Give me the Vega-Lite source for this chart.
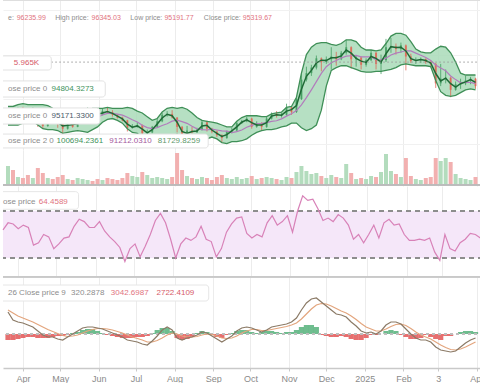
{
"$schema":"https://vega.github.io/schema/vega-lite/v6.json",
"padding":0,
"spacing":0,
"background":"white",
"config":{"view":{"stroke":null},"font":"Liberation Sans"},
"data":{"values":[
{"d":"2024-03-20","o":66.5,"h":69,"l":65.5,"c":67.5,"u":72,"lo":62,"m":67.5,"s":67.5,"v":20,"r":54,"dif":2200,"dea":2400,"hi":-600},
{"d":"2024-03-24","o":67.5,"h":68.8,"l":65.8,"c":67,"u":72,"lo":62,"m":67.3,"s":67.2,"v":16,"r":60,"dif":1400,"dea":2100,"hi":-600},
{"d":"2024-03-28","o":67,"h":71.5,"l":66.5,"c":70.5,"u":73,"lo":62,"m":68.8,"s":67.8,"v":9,"r":59,"dif":1200,"dea":1800,"hi":-500},
{"d":"2024-04-01","o":70.5,"h":71.8,"l":68.5,"c":69.5,"u":73.5,"lo":63,"m":70,"s":68.3,"v":8,"r":55,"dif":1100,"dea":1600,"hi":-400},
{"d":"2024-04-05","o":69.5,"h":70.5,"l":66.5,"c":68,"u":73,"lo":63.5,"m":68.8,"s":68.5,"v":11,"r":58,"dif":900,"dea":1400,"hi":-300},
{"d":"2024-04-09","o":68,"h":71.5,"l":67.5,"c":69.5,"u":73,"lo":64,"m":68.8,"s":68.7,"v":8,"r":56,"dif":700,"dea":1200,"hi":-300},
{"d":"2024-04-13","o":69.5,"h":70,"l":61,"c":64,"u":73,"lo":62,"m":66.8,"s":68.1,"v":18,"r":41,"dif":300,"dea":950,"hi":-400},
{"d":"2024-04-17","o":64,"h":65,"l":60,"c":61.5,"u":73,"lo":60,"m":62.8,"s":67.2,"v":13,"r":43,"dif":-100,"dea":700,"hi":-400},
{"d":"2024-04-21","o":61.5,"h":66,"l":61,"c":65,"u":72.5,"lo":59.5,"m":63.3,"s":66.3,"v":8,"r":50,"dif":-300,"dea":450,"hi":-400},
{"d":"2024-04-25","o":65,"h":66.5,"l":63,"c":64,"u":71,"lo":59.5,"m":64.5,"s":65.3,"v":7,"r":48,"dif":-300,"dea":250,"hi":-300},
{"d":"2024-04-29","o":64,"h":64.5,"l":60.5,"c":63,"u":70,"lo":59,"m":63.5,"s":64.5,"v":9,"r":38,"dif":-500,"dea":50,"hi":-200},
{"d":"2024-05-03","o":63,"h":63.5,"l":57,"c":60,"u":69,"lo":57.5,"m":61.5,"s":62.9,"v":11,"r":42,"dif":-600,"dea":-150,"hi":-200},
{"d":"2024-05-07","o":60,"h":64.5,"l":59.5,"c":63.5,"u":67.5,"lo":58,"m":61.8,"s":62.8,"v":7,"r":47,"dif":-300,"dea":-250,"hi":-100},
{"d":"2024-05-11","o":63.5,"h":63.8,"l":60.5,"c":61,"u":66.5,"lo":58.5,"m":62.3,"s":62.8,"v":6,"r":48,"dif":0,"dea":-200,"hi":100},
{"d":"2024-05-15","o":61,"h":66,"l":60.8,"c":64.5,"u":66.5,"lo":59,"m":62.8,"s":62.7,"v":8,"r":57,"dif":300,"dea":-100,"hi":200},
{"d":"2024-05-19","o":64.5,"h":67.5,"l":64,"c":67,"u":68,"lo":58.5,"m":65.8,"s":63.2,"v":7,"r":63,"dif":600,"dea":100,"hi":400},
{"d":"2024-05-23","o":67,"h":71.5,"l":66.5,"c":68.5,"u":70,"lo":58,"m":67.8,"s":64.1,"v":6,"r":61,"dif":700,"dea":300,"hi":500},
{"d":"2024-05-27","o":68.5,"h":70,"l":67.5,"c":68,"u":71,"lo":59.5,"m":68.3,"s":65.4,"v":5,"r":56,"dif":700,"dea":450,"hi":500},
{"d":"2024-05-31","o":68,"h":69.5,"l":66.8,"c":67.5,"u":71,"lo":61,"m":67.8,"s":66.1,"v":7,"r":56,"dif":600,"dea":550,"hi":300},
{"d":"2024-06-04","o":67.5,"h":71,"l":67.2,"c":69.5,"u":71,"lo":63.5,"m":68.5,"s":67.5,"v":6,"r":61,"dif":500,"dea":550,"hi":100},
{"d":"2024-06-08","o":69.5,"h":71.5,"l":68.5,"c":69,"u":71.5,"lo":65,"m":69.3,"s":68.3,"v":8,"r":53,"dif":300,"dea":500,"hi":-100},
{"d":"2024-06-12","o":69,"h":70,"l":66.5,"c":67.5,"u":71,"lo":65.5,"m":68.3,"s":68.3,"v":7,"r":48,"dif":100,"dea":400,"hi":-200},
{"d":"2024-06-16","o":67.5,"h":67.8,"l":65.5,"c":66,"u":71,"lo":64.5,"m":66.8,"s":67.9,"v":6,"r":44,"dif":-100,"dea":250,"hi":-300},
{"d":"2024-06-20","o":66,"h":66.5,"l":64,"c":64.5,"u":71,"lo":63,"m":65.3,"s":67.3,"v":8,"r":39,"dif":-300,"dea":100,"hi":-400},
{"d":"2024-06-24","o":64.5,"h":64.8,"l":58.5,"c":60.5,"u":71.5,"lo":60,"m":62.5,"s":66.2,"v":13,"r":27,"dif":-600,"dea":-100,"hi":-400},
{"d":"2024-06-28","o":60.5,"h":62.5,"l":60,"c":61,"u":71,"lo":58,"m":60.8,"s":64.8,"v":10,"r":38,"dif":-700,"dea":-300,"hi":-400},
{"d":"2024-07-02","o":61,"h":63.5,"l":60.5,"c":62,"u":69.5,"lo":57.5,"m":61.5,"s":63.6,"v":9,"r":42,"dif":-800,"dea":-450,"hi":-300},
{"d":"2024-07-06","o":62,"h":62.3,"l":54,"c":57.5,"u":68.5,"lo":55,"m":59.8,"s":61.9,"v":14,"r":31,"dif":-1000,"dea":-600,"hi":-300},
{"d":"2024-07-10","o":57.5,"h":59.5,"l":56.5,"c":58,"u":66.5,"lo":54.5,"m":57.8,"s":60.6,"v":11,"r":40,"dif":-1100,"dea":-800,"hi":-200},
{"d":"2024-07-14","o":58,"h":61.5,"l":57.5,"c":61,"u":64.5,"lo":55,"m":59.5,"s":60,"v":8,"r":50,"dif":-700,"dea":-800,"hi":100},
{"d":"2024-07-18","o":61,"h":65.5,"l":60.5,"c":64,"u":65.5,"lo":55.5,"m":62.5,"s":60.6,"v":9,"r":62,"dif":-200,"dea":-650,"hi":400},
{"d":"2024-07-22","o":64,"h":68.5,"l":63.5,"c":67.5,"u":69,"lo":55,"m":65.8,"s":61.7,"v":8,"r":68,"dif":400,"dea":-400,"hi":600},
{"d":"2024-07-26","o":67.5,"h":69.5,"l":66.5,"c":68,"u":71,"lo":54.5,"m":67.8,"s":62.7,"v":7,"r":60,"dif":700,"dea":-100,"hi":600},
{"d":"2024-07-30","o":68,"h":70,"l":65.5,"c":66,"u":71.5,"lo":56,"m":67,"s":64.1,"v":9,"r":46,"dif":400,"dea":100,"hi":300},
{"d":"2024-08-03","o":66,"h":66.3,"l":58,"c":61,"u":71,"lo":57,"m":63.5,"s":64.6,"v":33,"r":30,"dif":-400,"dea":0,"hi":-400},
{"d":"2024-08-07","o":61,"h":61.5,"l":49.5,"c":56,"u":71.5,"lo":55,"m":58.5,"s":63.8,"v":16,"r":42,"dif":-600,"dea":-200,"hi":-600},
{"d":"2024-08-11","o":56,"h":61.5,"l":55.5,"c":59,"u":70.5,"lo":53,"m":57.5,"s":62.9,"v":10,"r":47,"dif":-400,"dea":-300,"hi":-500},
{"d":"2024-08-15","o":59,"h":61,"l":57.5,"c":58,"u":68.5,"lo":53,"m":58.5,"s":61.3,"v":8,"r":45,"dif":-300,"dea":-300,"hi":-300},
{"d":"2024-08-19","o":58,"h":60.5,"l":57.8,"c":59.5,"u":66,"lo":53.5,"m":58.8,"s":59.9,"v":7,"r":48,"dif":-100,"dea":-250,"hi":100},
{"d":"2024-08-23","o":59.5,"h":64.8,"l":59,"c":63.5,"u":64.5,"lo":54,"m":61.5,"s":59.5,"v":9,"r":57,"dif":200,"dea":-100,"hi":300},
{"d":"2024-08-27","o":63.5,"h":64.3,"l":58.5,"c":60,"u":64,"lo":54.5,"m":61.8,"s":59.3,"v":8,"r":46,"dif":100,"dea":0,"hi":200},
{"d":"2024-08-31","o":60,"h":60.5,"l":57.5,"c":58.5,"u":63.5,"lo":55.5,"m":59.3,"s":59.8,"v":6,"r":44,"dif":-200,"dea":-50,"hi":-100},
{"d":"2024-09-04","o":58.5,"h":59,"l":55.5,"c":56.5,"u":63,"lo":54.5,"m":57.5,"s":59.3,"v":9,"r":31,"dif":-500,"dea":-200,"hi":-300},
{"d":"2024-09-08","o":56.5,"h":57,"l":52.5,"c":55,"u":62,"lo":52.5,"m":55.8,"s":58.8,"v":11,"r":38,"dif":-800,"dea":-400,"hi":-400},
{"d":"2024-09-12","o":55,"h":59,"l":54.5,"c":58.5,"u":61,"lo":52,"m":56.8,"s":58.7,"v":8,"r":52,"dif":-500,"dea":-450,"hi":-100},
{"d":"2024-09-16","o":58.5,"h":60.5,"l":57.5,"c":59,"u":61,"lo":53,"m":58.8,"s":57.9,"v":7,"r":59,"dif":-200,"dea":-400,"hi":100},
{"d":"2024-09-20","o":59,"h":64,"l":58.5,"c":63,"u":64,"lo":53,"m":61,"s":58.4,"v":9,"r":64,"dif":300,"dea":-200,"hi":300},
{"d":"2024-09-24","o":63,"h":64.8,"l":62.5,"c":64,"u":66,"lo":53.5,"m":63.5,"s":59.3,"v":7,"r":65,"dif":600,"dea":100,"hi":400},
{"d":"2024-09-28","o":64,"h":66.5,"l":63.5,"c":65.5,"u":67,"lo":54.5,"m":64.8,"s":60.8,"v":8,"r":51,"dif":700,"dea":300,"hi":400},
{"d":"2024-10-02","o":65.5,"h":66,"l":60,"c":61,"u":67,"lo":56.5,"m":63.3,"s":61.8,"v":10,"r":47,"dif":600,"dea":450,"hi":200},
{"d":"2024-10-06","o":61,"h":64,"l":60.5,"c":63,"u":67,"lo":58,"m":62,"s":62.6,"v":7,"r":50,"dif":400,"dea":450,"hi":100},
{"d":"2024-10-10","o":63,"h":63.5,"l":59,"c":61,"u":66.5,"lo":59,"m":62,"s":62.9,"v":8,"r":48,"dif":200,"dea":350,"hi":200},
{"d":"2024-10-14","o":61,"h":66.5,"l":60.5,"c":65.5,"u":66.5,"lo":59.5,"m":63.3,"s":63.3,"v":9,"r":60,"dif":400,"dea":350,"hi":300},
{"d":"2024-10-18","o":65.5,"h":68.8,"l":65,"c":68,"u":68,"lo":59.5,"m":66.8,"s":64,"v":8,"r":66,"dif":700,"dea":450,"hi":300},
{"d":"2024-10-22","o":68,"h":69.5,"l":66,"c":67,"u":68.5,"lo":60,"m":67.5,"s":64.3,"v":7,"r":58,"dif":800,"dea":550,"hi":200},
{"d":"2024-10-26","o":67,"h":68.5,"l":66,"c":67.5,"u":69,"lo":61,"m":67.3,"s":65.3,"v":6,"r":61,"dif":900,"dea":650,"hi":100},
{"d":"2024-10-30","o":67.5,"h":73.5,"l":67,"c":71.5,"u":71.5,"lo":61.5,"m":69.5,"s":66.8,"v":9,"r":66,"dif":1000,"dea":750,"hi":200},
{"d":"2024-11-03","o":71.5,"h":72,"l":67.5,"c":69,"u":72,"lo":63,"m":70.3,"s":68.1,"v":8,"r":52,"dif":1200,"dea":900,"hi":200},
{"d":"2024-11-07","o":69,"h":77,"l":68.5,"c":76,"u":77,"lo":63,"m":72.5,"s":69.8,"v":14,"r":70,"dif":1600,"dea":1100,"hi":400},
{"d":"2024-11-11","o":76,"h":89.5,"l":75.5,"c":86.5,"u":90,"lo":60.5,"m":81.3,"s":72.9,"v":20,"r":83,"dif":2400,"dea":1500,"hi":700},
{"d":"2024-11-15","o":86.5,"h":93.5,"l":85.5,"c":90,"u":100,"lo":59,"m":88.3,"s":76.8,"v":15,"r":79,"dif":3100,"dea":2000,"hi":900},
{"d":"2024-11-19","o":90,"h":94.5,"l":88.5,"c":93,"u":104,"lo":60,"m":91.5,"s":81,"v":12,"r":80,"dif":3500,"dea":2500,"hi":900},
{"d":"2024-11-23","o":93,"h":99.5,"l":92,"c":98,"u":106,"lo":62,"m":95.5,"s":85.4,"v":13,"r":72,"dif":3600,"dea":2900,"hi":700},
{"d":"2024-11-27","o":98,"h":98.5,"l":91,"c":96,"u":106.5,"lo":70,"m":97,"s":89.9,"v":10,"r":62,"dif":3200,"dea":3050,"hi":-100},
{"d":"2024-12-01","o":96,"h":99,"l":95,"c":97.5,"u":106.5,"lo":83,"m":96.8,"s":93.5,"v":8,"r":64,"dif":2800,"dea":3000,"hi":-200},
{"d":"2024-12-05","o":97.5,"h":104,"l":92,"c":99,"u":105.5,"lo":91.5,"m":98.3,"s":95.6,"v":11,"r":61,"dif":2400,"dea":2800,"hi":-300},
{"d":"2024-12-09","o":99,"h":101.5,"l":94,"c":97.5,"u":105,"lo":93,"m":98.3,"s":96.8,"v":9,"r":67,"dif":2000,"dea":2550,"hi":-300},
{"d":"2024-12-13","o":97.5,"h":102,"l":97,"c":101,"u":106,"lo":94,"m":99.3,"s":98.2,"v":8,"r":64,"dif":1900,"dea":2300,"hi":-200},
{"d":"2024-12-17","o":101,"h":108,"l":100,"c":104,"u":108,"lo":94,"m":102.5,"s":99.2,"v":22,"r":58,"dif":1700,"dea":2100,"hi":-300},
{"d":"2024-12-21","o":104,"h":104.5,"l":92.5,"c":97.5,"u":108,"lo":93,"m":100.8,"s":99.4,"v":13,"r":46,"dif":1200,"dea":1800,"hi":-500},
{"d":"2024-12-25","o":97.5,"h":99.5,"l":93.5,"c":98.5,"u":107,"lo":92,"m":98,"s":99.6,"v":7,"r":50,"dif":800,"dea":1450,"hi":-600},
{"d":"2024-12-29","o":98.5,"h":99,"l":92,"c":94.5,"u":104,"lo":91,"m":96.5,"s":98.8,"v":8,"r":43,"dif":300,"dea":1050,"hi":-600},
{"d":"2025-01-02","o":94.5,"h":98,"l":93.5,"c":97,"u":102.5,"lo":90.5,"m":95.8,"s":98.8,"v":7,"r":50,"dif":100,"dea":700,"hi":-400},
{"d":"2025-01-06","o":97,"h":102.5,"l":96.5,"c":101,"u":102.5,"lo":90.5,"m":99,"s":98.8,"v":10,"r":58,"dif":200,"dea":500,"hi":-100},
{"d":"2025-01-10","o":101,"h":101.5,"l":92,"c":95,"u":102,"lo":91,"m":98,"s":97.3,"v":9,"r":47,"dif":0,"dea":300,"hi":-100},
{"d":"2025-01-14","o":95,"h":100,"l":89.5,"c":97,"u":102.5,"lo":91,"m":96,"s":97.2,"v":14,"r":60,"dif":300,"dea":300,"hi":0},
{"d":"2025-01-18","o":97,"h":108.5,"l":96,"c":104,"u":106,"lo":91.5,"m":100.5,"s":98.1,"v":32,"r":63,"dif":900,"dea":500,"hi":300},
{"d":"2025-01-22","o":104,"h":109,"l":101,"c":104.5,"u":110,"lo":92,"m":104.3,"s":99.8,"v":15,"r":58,"dif":1200,"dea":750,"hi":400},
{"d":"2025-01-26","o":104.5,"h":106,"l":100,"c":103,"u":111.5,"lo":93,"m":103.8,"s":100.8,"v":12,"r":59,"dif":1200,"dea":950,"hi":300},
{"d":"2025-01-30","o":103,"h":106.5,"l":101,"c":105,"u":111.5,"lo":94.5,"m":104,"s":101.4,"v":9,"r":50,"dif":1000,"dea":1000,"hi":-100},
{"d":"2025-02-03","o":105,"h":105.5,"l":91.5,"c":99,"u":110.5,"lo":95,"m":102,"s":102.1,"v":28,"r":45,"dif":500,"dea":850,"hi":-300},
{"d":"2025-02-07","o":99,"h":100.5,"l":95.5,"c":96.5,"u":107,"lo":94.5,"m":97.8,"s":102,"v":10,"r":45,"dif":0,"dea":550,"hi":-500},
{"d":"2025-02-11","o":96.5,"h":98.5,"l":95,"c":97,"u":103,"lo":94,"m":96.8,"s":100.8,"v":7,"r":46,"dif":-400,"dea":200,"hi":-500},
{"d":"2025-02-15","o":97,"h":98.5,"l":95.5,"c":97.5,"u":101.5,"lo":94,"m":97.3,"s":99.7,"v":6,"r":45,"dif":-600,"dea":-100,"hi":-400},
{"d":"2025-02-19","o":97.5,"h":98,"l":95,"c":96,"u":101,"lo":94,"m":96.8,"s":98.5,"v":8,"r":47,"dif":-600,"dea":-300,"hi":-100},
{"d":"2025-02-23","o":96,"h":97,"l":93,"c":95,"u":101,"lo":93.5,"m":95.5,"s":96.8,"v":9,"r":35,"dif":-800,"dea":-500,"hi":-300},
{"d":"2025-02-27","o":95,"h":95.5,"l":82,"c":84.5,"u":103,"lo":86,"m":89.8,"s":94.4,"v":28,"r":28,"dif":-1300,"dea":-800,"hi":-500},
{"d":"2025-03-03","o":84.5,"h":95,"l":83,"c":87,"u":104.5,"lo":80,"m":85.8,"s":92.8,"v":25,"r":50,"dif":-1600,"dea":-1100,"hi":-600},
{"d":"2025-03-07","o":87,"h":92,"l":84.5,"c":87.5,"u":104,"lo":78,"m":87.3,"s":91.3,"v":28,"r":38,"dif":-1700,"dea":-1350,"hi":-200},
{"d":"2025-03-11","o":87.5,"h":88,"l":77,"c":81,"u":101,"lo":77.5,"m":84.3,"s":88.5,"v":24,"r":36,"dif":-1800,"dea":-1550,"hi":-200},
{"d":"2025-03-15","o":81,"h":85.5,"l":80.5,"c":84,"u":96,"lo":78,"m":82.5,"s":86.5,"v":12,"r":43,"dif":-1700,"dea":-1600,"hi":0},
{"d":"2025-03-19","o":84,"h":87,"l":81.5,"c":84.5,"u":90,"lo":79.5,"m":84.3,"s":84.8,"v":8,"r":46,"dif":-1300,"dea":-1500,"hi":200},
{"d":"2025-03-23","o":84.5,"h":88.5,"l":83.5,"c":86,"u":89,"lo":81,"m":85.3,"s":85,"v":7,"r":51,"dif":-900,"dea":-1300,"hi":300},
{"d":"2025-03-27","o":86,"h":88,"l":84,"c":87,"u":89,"lo":81.5,"m":86.5,"s":85,"v":6,"r":50,"dif":-600,"dea":-1050,"hi":300},
{"d":"2025-03-31","o":87,"h":87.5,"l":81.5,"c":83,"u":89,"lo":81,"m":85,"s":84.3,"v":9,"r":47,"dif":-400,"dea":-800,"hi":200}
]},
"vconcat":[
{"width":480,"height":150,
 "layer":[
  {"mark":{"type":"area","color":"#a9dbb8","opacity":0.85},
   "encoding":{
    "x":{"field":"d","type":"temporal","scale":{"type":"utc","domain":[{"year":2024,"month":3,"date":20,"utc":true},{"year":2025,"month":4,"date":2,"utc":true}]},"axis":{"grid":true,"gridColor":"#ececec","labels":false,"ticks":false,"domain":false,"title":null,"tickCount":{"interval":"month","step":1}}},
    "y":{"field":"u","type":"quantitative","scale":{"domain":[48.5,129.5],"nice":false,"zero":false},"axis":{"values":[52,64,76,88,100,112,124],"grid":true,"gridColor":"#f1f1f1","labels":false,"ticks":false,"domain":false,"title":null}},
    "y2":{"field":"lo"}}},
  {"mark":{"type":"rule","clip":true,"color":"#dedede","strokeWidth":2},"encoding":{"y":{"datum":129.5,"type":"quantitative"}}},
  {"mark":{"type":"rule","strokeWidth":1,"opacity":0.75},
   "encoding":{"x":{"field":"d","type":"temporal"},"y":{"field":"l","type":"quantitative"},"y2":{"field":"h"},
    "color":{"condition":{"test":"datum.c >= datum.o","value":"#3d9a5c"},"value":"#e0604f"}}},
  {"mark":{"type":"bar","width":2,"opacity":0.75},
   "encoding":{"x":{"field":"d","type":"temporal"},"y":{"field":"o","type":"quantitative"},"y2":{"field":"c"},
    "color":{"condition":{"test":"datum.c >= datum.o","value":"#3d9a5c"},"value":"#e0604f"}}},
  {"mark":{"type":"line","color":"#3f8f57","strokeWidth":1.3},"encoding":{"x":{"field":"d","type":"temporal"},"y":{"field":"u","type":"quantitative"}}},
  {"mark":{"type":"line","color":"#3f8f57","strokeWidth":1.3},"encoding":{"x":{"field":"d","type":"temporal"},"y":{"field":"lo","type":"quantitative"}}},
  {"mark":{"type":"line","color":"#b27cbc","strokeWidth":1.2},"encoding":{"x":{"field":"d","type":"temporal"},"y":{"field":"s","type":"quantitative"}}},
  {"mark":{"type":"line","color":"#1f6a36","strokeWidth":1.5},"encoding":{"x":{"field":"d","type":"temporal"},"y":{"field":"m","type":"quantitative"}}},
  {"data":{"values":[{"d":"2024-04-23T20:00Z","d2":"2025-04-02T00:00Z","y":95.965}]},
   "mark":{"type":"rule","color":"#9a9a9a","strokeDash":[1.5,2.5],"strokeWidth":1},
   "encoding":{"x":{"field":"d","type":"temporal"},"x2":{"field":"d2"},"y":{"field":"y","type":"quantitative"}}},
  {"data":{"values":[
    {"d":"2024-03-10","d2":"2024-04-23T20:00Z","y":99.3,"y2":91.7},
    {"d":"2024-03-10","d2":"2024-06-06T05:00Z","y":85.8,"y2":77.1},
    {"d":"2024-03-10","d2":"2024-06-01T22:00Z","y":71.2,"y2":62.5},
    {"d":"2024-03-10","d2":"2024-08-28T00:00Z","y":57.1,"y2":49.6}]},
   "mark":{"type":"rect","fill":"#ffffff","stroke":"#e2e2e2","strokeWidth":1,"cornerRadius":3,"clip":true},
   "encoding":{"x":{"field":"d","type":"temporal"},"x2":{"field":"d2"},"y":{"field":"y","type":"quantitative"},"y2":{"field":"y2"}}},
  {"data":{"values":[
    {"d":"2024-03-24T17:00Z","y":95.5,"t":"5.965K","k":"rd"},
    {"d":"2024-03-20","y":81.4,"t":"ose price 0","k":"g"},
    {"d":"2024-04-24T00:00Z","y":81.4,"t":"94804.3273","k":"gr"},
    {"d":"2024-03-20","y":66.9,"t":"ose price 0","k":"g"},
    {"d":"2024-04-24T00:00Z","y":66.9,"t":"95171.3300","k":"sl"},
    {"d":"2024-03-20","y":53.4,"t":"ose price 2 0","k":"g"},
    {"d":"2024-04-28T00:00Z","y":53.4,"t":"100694.2361","k":"gr"},
    {"d":"2024-06-09T12:00Z","y":53.4,"t":"91212.0310","k":"pu"},
    {"d":"2024-07-18T12:00Z","y":53.4,"t":"81729.8259","k":"gr2"}]},
   "mark":{"type":"text","align":"left","baseline":"middle","fontSize":8},
   "encoding":{"x":{"field":"d","type":"temporal"},"y":{"field":"y","type":"quantitative"},"text":{"field":"t"},
    "color":{"field":"k","type":"nominal","legend":null,"scale":{"domain":["g","pk","rd","gr","sl","pu","gr2"],"range":["#8c8c8c","#df7480","#d65a68","#3f935c","#4b5a6a","#a3589c","#5f9a6c"]}}}},
  {"data":{"values":[
    {"d":"2024-03-20","y":119.8,"t":"e:","k":"g"},
    {"d":"2024-03-27T00:00Z","y":119.8,"t":"96235.99","k":"pk"},
    {"d":"2024-04-27T00:00Z","y":119.8,"t":"High price:","k":"g"},
    {"d":"2024-05-26T06:00Z","y":119.8,"t":"96345.03","k":"pk"},
    {"d":"2024-06-26T10:00Z","y":119.8,"t":"Low price:","k":"g"},
    {"d":"2024-07-23T20:00Z","y":119.8,"t":"95191.77","k":"pk"},
    {"d":"2024-08-24T12:00Z","y":119.8,"t":"Close price:","k":"g"},
    {"d":"2024-09-24T20:00Z","y":119.8,"t":"95319.67","k":"pk"}]},
   "mark":{"type":"text","align":"left","baseline":"middle","fontSize":7},
   "encoding":{"x":{"field":"d","type":"temporal"},"y":{"field":"y","type":"quantitative"},"text":{"field":"t"},
    "color":{"field":"k","type":"nominal","legend":null,"scale":{"domain":["g","pk","rd","gr","sl","pu","gr2"],"range":["#8c8c8c","#df7480","#d65a68","#3f935c","#4b5a6a","#a3589c","#5f9a6c"]}}}}
 ]},
{"width":480,"height":36,
 "layer":[
  {"mark":{"type":"bar","width":4},
   "encoding":{
    "x":{"field":"d","type":"temporal","scale":{"type":"utc","domain":[{"year":2024,"month":3,"date":20,"utc":true},{"year":2025,"month":4,"date":2,"utc":true}]},"axis":{"grid":true,"gridColor":"#ececec","labels":false,"ticks":false,"domain":false,"title":null,"tickCount":{"interval":"month","step":1}}},
    "y":{"field":"v","type":"quantitative","scale":{"domain":[0,36],"nice":false},"axis":null},
    "color":{"condition":{"test":"datum.c >= datum.o","value":"#b3dcbd"},"value":"#f2b0b0"}}},
  {"mark":{"type":"rule","color":"#bdbdbd","strokeWidth":2.5,"clip":true},"encoding":{"y":{"datum":0,"type":"quantitative"}}}
 ]},
{"width":480,"height":90,
 "layer":[
  {"mark":{"type":"rect","color":"#f5e7f9"},
   "encoding":{"y":{"datum":70,"type":"quantitative","scale":{"domain":[14.7,91.3],"nice":false,"zero":false},"axis":null},"y2":{"datum":30}}},
  {"mark":{"type":"rule","color":"#8e8e8e","strokeDash":[5,4],"strokeWidth":1},"encoding":{"y":{"datum":70,"type":"quantitative"}}},
  {"mark":{"type":"rule","color":"#8e8e8e","strokeDash":[5,4],"strokeWidth":1},"encoding":{"y":{"datum":30,"type":"quantitative"}}},
  {"mark":{"type":"line","color":"#d882b8","strokeWidth":1.2},
   "encoding":{
    "x":{"field":"d","type":"temporal","scale":{"type":"utc","domain":[{"year":2024,"month":3,"date":20,"utc":true},{"year":2025,"month":4,"date":2,"utc":true}]},"axis":{"grid":true,"gridColor":"#ececec","labels":false,"ticks":false,"domain":false,"title":null,"tickCount":{"interval":"month","step":1}}},
    "y":{"field":"r","type":"quantitative"}}},
  {"data":{"values":[{"d":"2024-03-10","d2":"2024-05-18T12:00Z","y":86.5,"y2":71.5}]},
   "mark":{"type":"rect","fill":"#ffffff","stroke":"#e6e6e6","strokeWidth":1,"cornerRadius":3,"clip":true},
   "encoding":{"x":{"field":"d","type":"temporal"},"x2":{"field":"d2"},"y":{"field":"y","type":"quantitative"},"y2":{"field":"y2"}}},
  {"data":{"values":[
    {"d":"2024-03-20","y":77.7,"t":"ose price","k":"g"},
    {"d":"2024-04-17T06:00Z","y":77.7,"t":"64.4589","k":"pk"}]},
   "mark":{"type":"text","align":"left","baseline":"middle","fontSize":8},
   "encoding":{"x":{"field":"d","type":"temporal"},"y":{"field":"y","type":"quantitative"},"text":{"field":"t"},
    "color":{"field":"k","type":"nominal","legend":null,"scale":{"domain":["g","pk"],"range":["#8c8c8c","#d97db5"]}}}}
 ]},
{"width":480,"height":92,
 "layer":[
  {"mark":{"type":"bar","width":5.2,"opacity":0.9},
   "encoding":{
    "x":{"field":"d","type":"temporal","scale":{"type":"utc","domain":[{"year":2024,"month":3,"date":20,"utc":true},{"year":2025,"month":4,"date":2,"utc":true}]},
     "axis":{"orient":"bottom","grid":true,"gridColor":"#ececec","tickCount":{"interval":"month","step":1},
      "labelExpr":"utcmonth(datum.value) == 0 ? utcFormat(datum.value, '%Y') : (utcmonth(datum.value) == 2 ? '3' : utcFormat(datum.value, '%b'))",
      "labelColor":"#8a8a8a","labelFontSize":9,"labelFlush":false,"labelPadding":3,"labelFont":"Liberation Sans",
      "tickColor":"#c9c9c9","tickSize":3,"domainColor":"#c9c9c9","domainWidth":1.5,"title":null}},
    "y":{"field":"hi","type":"quantitative","scale":{"domain":[-3400,5800],"nice":false,"zero":false},"axis":null},
    "color":{"condition":{"test":"datum.hi >= 0","value":"#5fb683"},"value":"#e35f5f"}}},
  {"mark":{"type":"rule","color":"#c9c9c9","strokeWidth":2.5,"clip":true},"encoding":{"y":{"datum":5800,"type":"quantitative"}}},
  {"mark":{"type":"rule","color":"#bdbdbd","strokeDash":[3,3],"strokeWidth":1},"encoding":{"y":{"datum":0,"type":"quantitative"}}},
  {"mark":{"type":"line","color":"#e3a57d","strokeWidth":1.2},"encoding":{"x":{"field":"d","type":"temporal"},"y":{"field":"dea","type":"quantitative"}}},
  {"mark":{"type":"line","color":"#8b7a66","strokeWidth":1.2},"encoding":{"x":{"field":"d","type":"temporal"},"y":{"field":"dif","type":"quantitative"}}},
  {"data":{"values":[{"d":"2024-03-10","d2":"2024-08-28T10:00Z","y":4900,"y2":3300}]},
   "mark":{"type":"rect","fill":"#ffffff","stroke":"#e6e6e6","strokeWidth":1,"cornerRadius":3,"clip":true},
   "encoding":{"x":{"field":"d","type":"temporal"},"x2":{"field":"d2"},"y":{"field":"y","type":"quantitative"},"y2":{"field":"y2"}}},
  {"data":{"values":[
    {"d":"2024-03-20","y":4100,"t":"26 Close price 9","k":"g"},
    {"d":"2024-05-09T16:00Z","y":4100,"t":"320.2878","k":"tl"},
    {"d":"2024-06-10T17:00Z","y":4100,"t":"3042.6987","k":"br"},
    {"d":"2024-07-17T10:00Z","y":4100,"t":"2722.4109","k":"tn"}]},
   "mark":{"type":"text","align":"left","baseline":"middle","fontSize":8},
   "encoding":{"x":{"field":"d","type":"temporal"},"y":{"field":"y","type":"quantitative"},"text":{"field":"t"},
    "color":{"field":"k","type":"nominal","legend":null,"scale":{"domain":["g","tl","br","tn"],"range":["#8c8c8c","#3fa88a","#8a7a55","#e0a070"]}}}}
 ]}
]
}
